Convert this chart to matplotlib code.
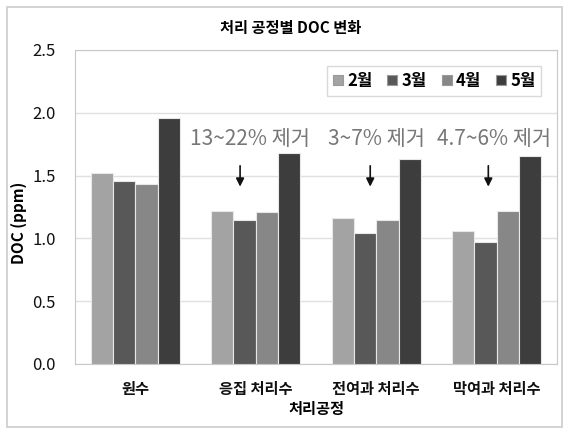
import numpy as np
import matplotlib
matplotlib.use('Agg')
import matplotlib.pyplot as plt
from matplotlib.patches import Rectangle

plt.rcParams['font.family'] = ['Noto Sans CJK KR', 'DejaVu Sans']

# data
categories = ['원수', '응집 처리수', '전여과 처리수', '막여과 처리수']
months = ['2월', '3월', '4월', '5월']
feb = [1.52, 1.22, 1.16, 1.06]
mar = [1.46, 1.15, 1.04, 0.97]
apr = [1.43, 1.21, 1.15, 1.22]
may = [1.96, 1.68, 1.63, 1.66]
removal = ['13~22% 제거', '3~7% 제거', '4.7~6% 제거']

colors = ['#a3a3a3', '#585858', '#878787', '#3d3d3d']

fig = plt.figure(figsize=(5.69, 4.33), dpi=100)
ax = fig.add_axes([75/569, (433-364)/433, 482/569, 314/433])

# outer border of the chart
fig.patches.append(Rectangle((0.012, 0.015), 0.976, 0.968, transform=fig.transFigure,
                             fill=False, edgecolor='#cccccc', linewidth=1.2))

x = np.arange(len(categories))
w = 0.185
for i, (vals, m) in enumerate(zip([feb, mar, apr, may], months)):
    ax.bar(x + (i - 1.5) * w, vals, w, color=colors[i], edgecolor='#e8e8e8',
           linewidth=0.8, label=m, zorder=3)

ax.set_xlim(-0.5, 3.5)
ax.set_ylim(0, 2.5)
ax.set_yticks(np.arange(0, 2.51, 0.5))
ax.set_yticklabels(['%.1f' % v for v in np.arange(0, 2.51, 0.5)], fontsize=12)
ax.set_xticks(x)
ax.set_xticklabels(categories, fontsize=11, fontweight='bold')
ax.tick_params(axis='both', length=0, colors='#111111')
ax.tick_params(axis='y', pad=14)
ax.tick_params(axis='x', pad=12)
ax.grid(axis='y', color='#e0e0e0', linewidth=1, zorder=0)
for s in ax.spines.values():
    s.set_color('#c8c8c8')

ax.set_xlabel('처리공정', fontsize=11, fontweight='bold', labelpad=3)
ax.set_ylabel('DOC (ppm)', fontsize=11, fontweight='bold')
ax.yaxis.set_label_coords(-0.10, 0.45)
fig.text(0.51, 0.935, '처리 공정별 DOC 변화', ha='center', va='center',
         fontsize=11, fontweight='bold')

# removal annotations
text_x = [0.95, 2.0, 2.98]
arrow_x = [0.87, 1.95, 2.93]
for tx, axx, lab in zip(text_x, arrow_x, removal):
    ax.text(tx, 1.79, lab, ha='center', va='center', fontsize=15,
            color='#777777', zorder=5)
    ax.annotate('', xy=(axx, 1.39), xytext=(axx, 1.6),
                arrowprops=dict(arrowstyle='-|>', color='#111111', lw=1.2,
                                mutation_scale=12), zorder=5)

leg = ax.legend(loc='upper right', bbox_to_anchor=(0.985, 0.975), ncol=4,
                prop={'size': 12, 'weight': 'bold'}, handlelength=0.6,
                handleheight=0.6, handletextpad=0.25, columnspacing=0.9,
                frameon=True, fancybox=False, borderpad=0.35)
leg.get_frame().set_edgecolor('#d0d0d0')
leg.get_frame().set_linewidth(1)
for h in leg.legend_handles:
    h.set_edgecolor('#999999')

fig.savefig('out.png', dpi=100)
